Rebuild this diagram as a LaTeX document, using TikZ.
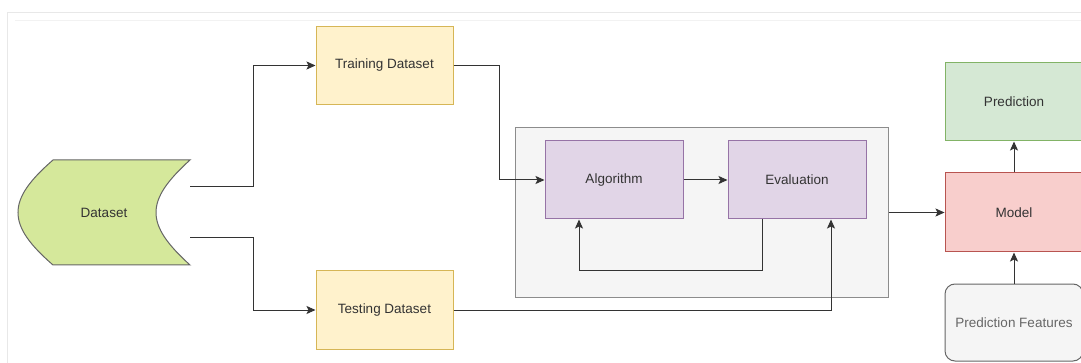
\documentclass[tikz,border=0pt]{standalone}
\usepackage{fontspec}
\setmainfont{Liberation Sans}
\usetikzlibrary{arrows.meta,calc}

\definecolor{txt}{HTML}{333333}
\definecolor{yfill}{HTML}{FFF2CC}\definecolor{ydraw}{HTML}{D6B656}
\definecolor{pfill}{HTML}{E1D5E7}\definecolor{pdraw}{HTML}{9673A6}
\definecolor{gfill}{HTML}{D5E8D4}\definecolor{gdraw}{HTML}{82B366}
\definecolor{rfill}{HTML}{F8CECC}\definecolor{rdraw}{HTML}{B85450}
\definecolor{sfill}{HTML}{F5F5F5}\definecolor{sdraw}{HTML}{666666}
\definecolor{lfill}{HTML}{D5E89B}

\tikzset{
  box/.style={rectangle, draw, line width=1pt, minimum width=137pt,
    minimum height=78pt, inner sep=0pt, font=\fontsize{13.5}{15}\selectfont,
    text=txt},
  yellowbox/.style={box, fill=yfill, draw=ydraw},
  purplebox/.style={box, fill=pfill, draw=pdraw},
  greenbox/.style={box, fill=gfill, draw=gdraw},
  redbox/.style={box, fill=rfill, draw=rdraw},
  greybox/.style={box, fill=sfill, draw=sdraw, rounded corners=10pt, text=sdraw},
  link/.style={draw=txt, line width=1pt,
    -{Stealth[length=9pt,width=8pt,inset=2pt]}},
}

\begin{document}
\begin{tikzpicture}[x=1pt,y=-1pt]
\useasboundingbox (0,0) rectangle (1081,363);
\clip (0,0) rectangle (1081,363);

% faint page frame
\draw[black!9, line width=0.8pt] (1081,12) -- (7,12) -- (7,363);
\draw[black!5, line width=0.8pt] (15,20) -- (1081,20);

% data storage shape
\draw[fill=lfill, draw=black!60, line width=1pt]
  (53,160) -- (190,160)
  .. controls (168,180) and (156,196) .. (156,212.5)
  .. controls (156,229) and (168,245) .. (190,265)
  -- (53,265)
  .. controls (30,245) and (18,229) .. (18,212.5)
  .. controls (18,196) and (30,180) .. (53,160) -- cycle;
\node[font=\fontsize{13.5}{15}\selectfont, text=txt] (dataset) at (104,212.5) {Dataset};
\coordinate (dsup) at (190,187);
\coordinate (dslow) at (190,238);

% grouping panel
\node[rectangle, draw=black!45, fill=sfill, line width=1pt,
  minimum width=373pt, minimum height=169pt, inner sep=0pt] (group) at (701.5,212.5) {};

\node[yellowbox] (train) at (384.5,65.5) {Training Dataset};
\node[yellowbox] (test) at (384.5,310) {Testing Dataset};
\node[purplebox, minimum width=138pt] (algo) at (614,180) {Algorithm};
\node[purplebox, minimum width=138pt] (eval) at (797,180) {Evaluation};
\node[redbox, minimum width=138pt, minimum height=79pt] (model) at (1014,212.5) {Model};
\node[greenbox, minimum width=138pt] (pred) at (1014,102) {Prediction};
\node[greybox, minimum width=138pt, minimum height=77pt] (feat) at (1014,322.5) {Prediction Features};

% connectors
\draw[link] (dsup) -- (253,187) |- (train.west);
\draw[link] (dslow) -- (253,238) |- (test.west);
\draw[link] (train.east) -- (499,65.5) |- (algo.west);
\draw[link] (algo.east) -- (eval.west);
\coordinate (fb) at (762,271);
\draw[link] (fb |- eval.south) -- (fb) -| (579,0 |- algo.south);
\draw[link] (test.east) -| (831,0 |- eval.south);
\draw[link] (group.east) -- (model.west);
\draw[link] (model.north) -- (pred.south);
\draw[link] (feat.north) -- (model.south);
\end{tikzpicture}
\end{document}
